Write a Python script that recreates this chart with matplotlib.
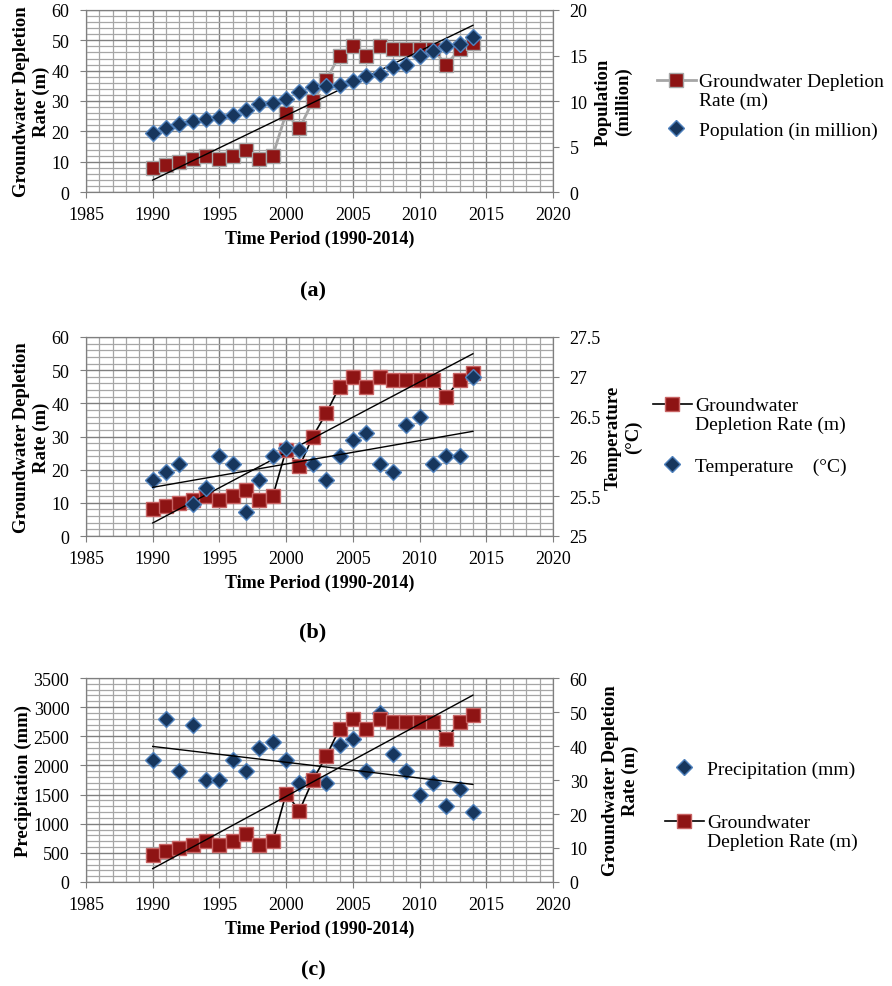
import numpy as np
import matplotlib
matplotlib.use("Agg")
import matplotlib.pyplot as plt
from matplotlib.lines import Line2D
from matplotlib.ticker import MultipleLocator, FormatStrFormatter

plt.rcParams['font.family'] = ['Liberation Serif', 'DejaVu Serif']

years = list(range(1990, 2015))
depletion = [8, 9, 10, 11, 12, 11, 12, 14, 11, 12, 26, 21, 30, 37, 45, 48, 45, 48, 47, 47, 47, 47, 42, 47, 49]
population = [6.5, 7.0, 7.5, 7.8, 8.0, 8.2, 8.5, 9.0, 9.7, 9.8, 10.2, 11.0, 11.5, 11.7, 11.8,
              12.2, 12.7, 13.0, 13.7, 14.0, 15.0, 15.5, 16.0, 16.3, 17.0]
temperature = [25.7, 25.8, 25.9, 25.4, 25.6, 26.0, 25.9, 25.3, 25.7, 26.0, 26.1, 26.08, 25.9,
               25.7, 26.0, 26.2, 26.3, 25.9, 25.8, 26.4, 26.5, 25.9, 26.0, 26.0, 27.0]
precipitation = [2100, 2800, 1900, 2700, 1750, 1750, 2100, 1900, 2300, 2400, 2100, 1700, 1800,
                 1700, 2350, 2450, 1900, 2900, 2200, 1900, 1500, 1700, 1300, 1600, 1200]
xticks = [1985, 1990, 1995, 2000, 2005, 2010, 2015, 2020]

RED = '#8E1414'
RED_EDGE = '#C86464'
BLUE = '#17365D'
BLUE_EDGE = '#4F81BD'
TICK_FS = 13
XLAB_FS = 13
YLAB_FS = 13.5
LEG_FS = 14

fig = plt.figure(figsize=(8.92, 9.87), dpi=100)
W, H = 892, 987

def make_ax(top_px, bot_px, left_px=86, right_px=553):
    return fig.add_axes([left_px / W, 1 - bot_px / H, (right_px - left_px) / W, (bot_px - top_px) / H])

def style_primary(ax, ymax, ymajor, yminor):
    ax.set_xlim(1985, 2020)
    ax.set_ylim(0, ymax)
    ax.set_xticks(xticks)
    ax.xaxis.set_minor_locator(MultipleLocator(1))
    ax.yaxis.set_major_locator(MultipleLocator(ymajor))
    ax.yaxis.set_minor_locator(MultipleLocator(yminor))
    ax.grid(which='major', color='#7F7F7F', linewidth=1.0)
    ax.grid(which='minor', color='#A6A6A6', linewidth=0.9)
    ax.set_axisbelow(True)
    ax.tick_params(which='major', direction='out', length=4, labelsize=TICK_FS, color='#7F7F7F')
    ax.tick_params(axis='x', which='major', pad=6)
    ax.tick_params(axis='y', which='major', pad=8)
    ax.tick_params(which='minor', length=0)
    for s in ax.spines.values():
        s.set_color('#7F7F7F')
    ax.set_xlabel('Time Period (1990-2014)', fontsize=XLAB_FS, fontweight='bold', labelpad=5)

def style_secondary(ax):
    ax.tick_params(which='major', direction='out', length=4, labelsize=TICK_FS, color='#7F7F7F', pad=8)
    for s in ax.spines.values():
        s.set_color('#7F7F7F')

def trend(ax, y):
    x = np.array(years, dtype=float)
    k, b = np.polyfit(x, np.array(y, dtype=float), 1)
    ax.plot([x[0], x[-1]], [k * x[0] + b, k * x[-1] + b], color='black', linewidth=1.0, zorder=5)

BLANK = Line2D([], [], color='none')

def add_legend(handles, labels, x_px, y_px, spacing=0.05):
    leg = fig.legend(handles, labels, loc='center left', bbox_to_anchor=(x_px / W, 1 - y_px / H),
                     frameon=False, fontsize=LEG_FS, handlelength=2.0, handletextpad=0.15,
                     labelspacing=spacing, borderpad=0, borderaxespad=0)
    return leg

# ---------------- (a) ----------------
axa = make_ax(11, 193)
style_primary(axa, 60, 10, 2)
h1, = axa.plot(years, depletion, color='#A6A6A6', linewidth=2, marker='s', markersize=10.5,
               markerfacecolor=RED, markeredgecolor='#A6A6A6', markeredgewidth=1.0,
               label='Groundwater Depletion Rate (m)', zorder=3)
trend(axa, depletion)
axa.set_ylabel('Groundwater Depletion\nRate (m)', fontsize=YLAB_FS, fontweight='bold', labelpad=1)
axa2 = axa.twinx()
axa2.set_ylim(0, 20)
axa2.yaxis.set_major_locator(MultipleLocator(5))
style_secondary(axa2)
h2, = axa2.plot(years, population, linestyle='none', marker='D', markersize=8,
                markerfacecolor=BLUE, markeredgecolor=BLUE_EDGE, markeredgewidth=1.0,
                label='Population (in million)', zorder=4)
axa2.set_ylabel('Population\n(million)', fontsize=YLAB_FS, fontweight='bold', labelpad=5)
add_legend([h1, BLANK], ['Groundwater Depletion', 'Rate (m)'], 657, 92)
add_legend([h2], ['Population (in million)'], 657, 131)
fig.text(313 / W, 1 - 291 / H, '(a)', ha='center', va='center', fontsize=16, fontweight='bold')

# ---------------- (b) ----------------
axb = make_ax(338, 537)
style_primary(axb, 60, 10, 2)
g1, = axb.plot(years, depletion, color='black', linewidth=1.2, marker='s', markersize=10.5,
               markerfacecolor=RED, markeredgecolor=RED_EDGE, markeredgewidth=1.0,
               label='Groundwater Depletion Rate (m)', zorder=3)
trend(axb, depletion)
axb.set_ylabel('Groundwater Depletion\nRate (m)', fontsize=YLAB_FS, fontweight='bold', labelpad=1)
axb2 = axb.twinx()
axb2.set_ylim(25, 27.5)
axb2.yaxis.set_major_locator(MultipleLocator(0.5))
axb2.yaxis.set_major_formatter(FormatStrFormatter('%g'))
style_secondary(axb2)
g2, = axb2.plot(years, temperature, linestyle='none', marker='D', markersize=8,
                markerfacecolor=BLUE, markeredgecolor=BLUE_EDGE, markeredgewidth=1.0,
                label='Temperature    (°C)', zorder=4)
trend(axb2, temperature)
axb2.set_ylabel('Temperature\n(°C)', fontsize=YLAB_FS, fontweight='bold', labelpad=3)
add_legend([g1, BLANK], ['Groundwater', 'Depletion Rate (m)'], 653, 416)
add_legend([g2], ['Temperature    (°C)'], 653, 467)
fig.text(313 / W, 1 - 632 / H, '(b)', ha='center', va='center', fontsize=16, fontweight='bold')

# ---------------- (c) ----------------
axc = make_ax(679, 883)
style_primary(axc, 3500, 500, 100)
p1, = axc.plot(years, precipitation, linestyle='none', marker='D', markersize=8,
               markerfacecolor=BLUE, markeredgecolor=BLUE_EDGE, markeredgewidth=1.0,
               label='Precipitation (mm)', zorder=3)
trend(axc, precipitation)
axc.set_ylabel('Precipitation (mm)', fontsize=YLAB_FS, fontweight='bold', labelpad=1)
axc2 = axc.twinx()
axc2.set_ylim(0, 60)
axc2.yaxis.set_major_locator(MultipleLocator(10))
style_secondary(axc2)
p2, = axc2.plot(years, depletion, color='black', linewidth=1.2, marker='s', markersize=10.5,
                markerfacecolor=RED, markeredgecolor=RED_EDGE, markeredgewidth=1.0,
                label='Groundwater Depletion Rate (m)', zorder=4)
trend(axc2, depletion)
axc2.set_ylabel('Groundwater Depletion\nRate (m)', fontsize=YLAB_FS, fontweight='bold', labelpad=10)
add_legend([p1], ['Precipitation (mm)'], 665, 770)
add_legend([p2, BLANK], ['Groundwater', 'Depletion Rate (m)'], 665, 833)
fig.text(313 / W, 1 - 970 / H, '(c)', ha='center', va='center', fontsize=16, fontweight='bold')

fig.savefig('out.png', dpi=100, facecolor='white')
